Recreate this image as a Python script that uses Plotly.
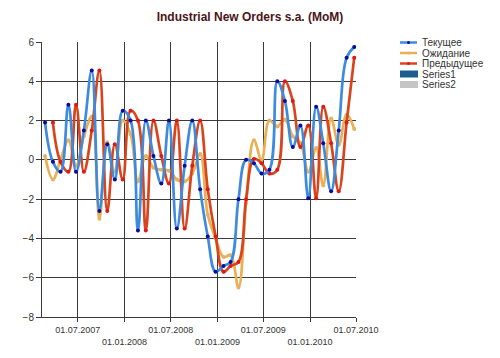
import pandas as pd
import plotly.graph_objects as go

# ---- data ----
months = pd.date_range("2007-03-01", "2010-07-01", freq="MS")
dates = months - pd.Timedelta(days=7)

current = [1.9, -0.1, -0.6, 2.8, -0.6, 1.5, 4.55, -2.6, 0.8, -1.0, 2.5, 2.0, -3.6, 2.0,
           0.2, -1.2, 2.0, -3.5, -0.3, 2.0, -1.5, -3.9, -5.7, -5.4, -5.2, -2.0, 0.0,
           -0.17, -0.7, -0.5, 4.0, 3.0, 0.65, 1.75, -1.95, 2.7, 0.85, -1.6, 1.5, 5.2, 5.75]
expected = [0.2, -1.0, 0.0, 1.0, -0.3, 1.2, 2.2, -3.0, 0.9, -0.6, 2.0, 1.3, -1.1, 0.2,
            -0.4, -0.5, -0.55, -1.0, -1.1, -0.7, 0.3, -2.8, -4.0, -4.95, -4.85, -6.5, -2.2,
            1.0, 0.0, 2.0, 1.7, 2.05, 1.2, 0.85, -0.6, 0.6, -1.3, 2.1, 0.77, 2.3, 1.57]
previous = [None, 1.9, -0.1, -0.6, 2.8, -0.6, 1.5, 4.55, -2.6, 0.8, -1.0, 2.5, 2.0, -3.6,
            2.0, 0.2, -1.2, 2.0, -3.5, -0.3, 2.0, -1.5, -3.9, -5.7, -5.4, -5.2, -2.0,
            0.05, -0.17, -0.7, -0.5, 4.0, 3.0, 0.65, 1.75, -1.95, 2.7, 0.85, -1.6, 1.9, 5.2]

tick_dates = ["2007-07-01", "2008-01-01", "2008-07-01", "2009-01-01",
              "2009-07-01", "2010-01-01", "2010-07-01"]
tick_labels = ["01.07.2007", "01.01.2008", "01.07.2008", "01.01.2009",
               "01.07.2009", "01.01.2010", "01.07.2010"]

series_names = ["Текущее", "Ожидание", "Предыдущее", "Series1", "Series2"]
line_colors = ["#3D8BE0", "#EBAE50", "#D9441C"]
marker_colors = ["#0A0AA0", "#E0B468", "#E01818"]
box_colors = ["#1B5E8E", "#C4C4C4"]

fig = go.Figure()

# draw order: orange, red, blue on top like reference
order = [1, 2, 0]
values = [current, expected, previous]
for i in order:
    fig.add_trace(go.Scatter(
        x=dates, y=values[i], name=series_names[i], mode="lines+markers",
        line=dict(color=line_colors[i], width=2.7, shape="spline", smoothing=1.1),
        marker=dict(color=marker_colors[i], size=4),
        showlegend=False,
    ))

# ---- layout ----
L, R, T, B = 42, 356, 42, 317
W, H = R - L, B - T


def px(x):
    return (x - L) / W


def py(y):
    return (B - y) / H


ticktext = [t if k % 2 == 0 else "<br>" + t for k, t in enumerate(tick_labels)]

fig.update_layout(
    width=500, height=358,
    margin=dict(l=L, r=500 - R, t=T, b=358 - B),
    paper_bgcolor="white", plot_bgcolor="white",
    title=dict(text="<b>Industrial New Orders s.a. (MoM)</b>", x=0.5, xanchor="center",
               y=1 - 17 / 358, yanchor="middle",
               font=dict(family="Liberation Sans, Arial", size=12, color="#4A1418")),
    font=dict(family="Liberation Sans, Arial", size=10, color="#333333"),
    showlegend=False,
)
fig.update_xaxes(
    type="date", range=["2007-02-10", "2010-07-01"],
    tickvals=tick_dates, ticktext=ticktext, tickangle=0,
    showgrid=True, gridcolor="#3A3A3A", gridwidth=1,
    showline=True, linecolor="#3A3A3A", linewidth=1,
    ticks="outside", ticklen=4, tickcolor="#3A3A3A",
    tickfont=dict(size=9, color="#333333"), zeroline=False,
)
fig.update_yaxes(
    range=[-8, 6], dtick=2, tick0=0,
    showgrid=True, gridcolor="#3A3A3A", gridwidth=1,
    showline=True, linecolor="#3A3A3A", linewidth=1,
    ticks="outside", ticklen=5, tickcolor="#3A3A3A",
    tickfont=dict(size=10, color="#333333"), zeroline=False,
)

# ---- custom compact legend ----
row_y = [42.5, 53, 63.5, 74, 84.5]
shapes = []
annotations = []
for k, name in enumerate(series_names):
    yc = row_y[k]
    if k < 3:
        shapes.append(dict(type="line", xref="paper", yref="paper",
                           x0=px(400), x1=px(417), y0=py(yc), y1=py(yc),
                           line=dict(color=line_colors[k], width=2.5)))
        shapes.append(dict(type="circle", xref="paper", yref="paper",
                           x0=px(407), x1=px(410), y0=py(yc - 1.5), y1=py(yc + 1.5),
                           fillcolor=marker_colors[k], line=dict(width=0)))
    else:
        shapes.append(dict(type="rect", xref="paper", yref="paper",
                           x0=px(400), x1=px(418), y0=py(yc - 3.5), y1=py(yc + 3.5),
                           fillcolor=box_colors[k - 3], line=dict(width=0)))
    annotations.append(dict(text=name, xref="paper", yref="paper",
                            x=px(420), y=py(yc), xanchor="left", yanchor="middle",
                            showarrow=False,
                            font=dict(family="Liberation Sans, Arial", size=10,
                                      color="#333333")))
fig.update_layout(shapes=shapes, annotations=annotations)

fig.write_html("out.html",
               config={"displayModeBar": False},
               post_script="document.body.style.margin='0';"
                           "document.body.style.overflow='hidden';")
